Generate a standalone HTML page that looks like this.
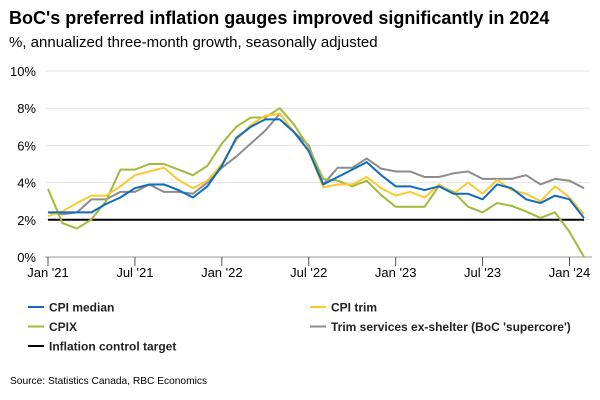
<!DOCTYPE html>
<html><head><meta charset="utf-8"><style>
body{margin:0;background:#fff;}
svg{display:block;font-family:"Liberation Sans",Arial,sans-serif;}
</style></head><body>
<svg id="chart" width="600" height="400" viewBox="0 0 600 400">
<text x="9" y="24" font-size="18" font-weight="bold" fill="#000">BoC's preferred inflation gauges improved significantly in 2024</text>
<text x="9" y="47" font-size="15" fill="#000">%, annualized three-month growth, seasonally adjusted</text>
<g id="grid"></g>
<g id="series"></g>
<g id="legend"></g>
<text x="10" y="384" font-size="10.2" fill="#000">Source: Statistics Canada, RBC Economics</text>
</svg>
<script>
const yTicks=[0,2,4,6,8,10];
const xTickLabels=["Jan '21","Jul '21","Jan '22","Jul '22","Jan '23","Jul '23","Jan '24"];
const xTickMonths=[0,6,12,18,24,30,36];
const cpiMedian=[2.4,2.4,2.4,2.4,2.85,3.2,3.7,3.9,3.9,3.6,3.2,3.8,4.9,6.4,7.0,7.4,7.4,6.7,5.7,3.9,4.3,4.7,5.1,4.4,3.8,3.8,3.6,3.8,3.4,3.4,3.1,3.9,3.7,3.1,2.9,3.3,3.1,2.1];
const cpiTrim=[2.2,2.45,2.9,3.3,3.3,3.8,4.4,4.6,4.8,4.15,3.7,4.1,5.0,6.3,7.1,7.6,7.7,6.7,5.7,3.75,3.9,3.9,4.3,3.7,3.3,3.5,3.2,3.9,3.4,4.0,3.4,4.15,3.6,3.4,3.0,3.8,3.2,2.3];
const cpix=[3.66,1.82,1.53,2.02,3.0,4.7,4.7,5.0,5.0,4.7,4.4,4.9,6.1,7.0,7.5,7.5,8.0,7.1,5.9,4.2,4.1,3.8,4.1,3.33,2.7,2.7,2.7,3.84,3.5,2.7,2.4,2.9,2.75,2.45,2.1,2.4,1.35,0];
const supercore=[2.4,2.3,2.4,3.1,3.1,3.5,3.5,3.9,3.5,3.5,3.4,4.0,4.8,5.4,6.1,6.8,7.7,6.7,6.0,3.9,4.8,4.8,5.3,4.75,4.6,4.6,4.3,4.3,4.5,4.6,4.2,4.2,4.2,4.4,3.9,4.2,4.1,3.7];
const target=2;
const NS="http://www.w3.org/2000/svg";
const X0=48,X1=569.5,Y0=257,YPER=18.6;
function xs(i){return X0+(X1-X0)*i/36;}
function ys(v){return Y0-v*YPER;}
function mk(tag,attrs,parent){const e=document.createElementNS(NS,tag);for(const k in attrs)e.setAttribute(k,attrs[k]);parent.appendChild(e);return e;}
const grid=document.getElementById('grid');
yTicks.forEach(v=>{
  if(v>0){const l=mk('line',{x1:45,x2:590,y1:ys(v),y2:ys(v),stroke:'#e2e2e2','stroke-width':1},grid);
  
  }
  const t=mk('text',{x:36,y:ys(v)+5,'font-size':13,'text-anchor':'end',fill:'#000'},grid);
  t.textContent=v+'%';
  
  
});
const ax=mk('line',{x1:45,x2:592,y1:Y0,y2:Y0,stroke:'#999','stroke-width':1},grid);


xTickMonths.forEach((m,k)=>{
  const tk=mk('line',{x1:xs(m),x2:xs(m),y1:Y0,y2:Y0+9,stroke:'#555','stroke-width':1},grid);
  
  
  const t=mk('text',{x:xs(m),y:277,'font-size':13,'text-anchor':'middle',fill:'#000'},grid);
  t.textContent=xTickLabels[k];
  
  
});
const sg=document.getElementById('series');
const tl=mk('line',{x1:xs(0),x2:xs(37),y1:ys(target),y2:ys(target),stroke:'#000','stroke-width':2},sg);


function line(arr,color,name){
  const p=mk('polyline',{points:arr.map((v,i)=>xs(i)+','+ys(v)).join(' '),fill:'none',stroke:color,'stroke-width':2,'stroke-linejoin':'round'},sg);
  
  
}
line(supercore,'#8c8c8c','supercore-line');
line(cpix,'#a3b93a','cpix-line');
line(cpiTrim,'#fdc82f','cpi-trim-line');
line(cpiMedian,'#0d6cc0','cpi-median-line');
const lg=document.getElementById('legend');
const items=[["CPI median","#0d6cc0",28,307],["CPI trim","#fdc82f",310,307],["CPIX","#a3b93a",28,326.5],["Trim services ex-shelter (BoC 'supercore')","#8c8c8c",310,326.5],["Inflation control target","#000",28,346]];
items.forEach(it=>{
  const g=mk('g',{},lg);
  
  
  mk('line',{x1:it[2],x2:it[2]+16,y1:it[3],y2:it[3],stroke:it[1],'stroke-width':2},g);
  const t=mk('text',{x:it[2]+21,y:it[3]+4.5,'font-size':12,'font-weight':'bold',fill:'#222'},g);
  t.textContent=it[0];
});
</script>
</body></html>
